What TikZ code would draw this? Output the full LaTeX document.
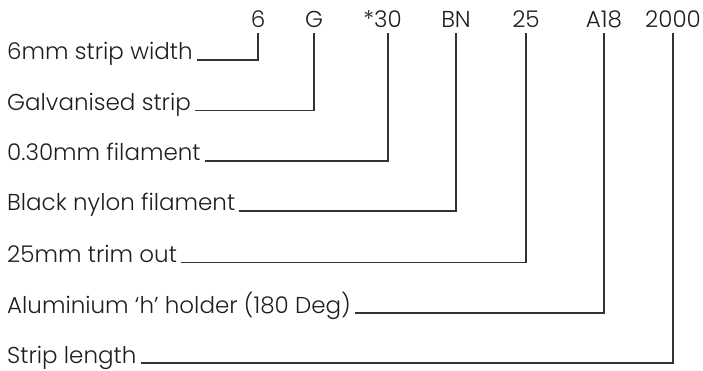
\documentclass[tikz,border=0pt]{standalone}
\usepackage{fontspec}
\setmainfont{Poppins Light}
\definecolor{ink}{HTML}{1E1E1E}
\definecolor{wire}{HTML}{333333}
\begin{document}
\begin{tikzpicture}[x=1pt,y=-1pt,
  code/.style={anchor=base,inner sep=0pt,text=ink,font=\fontsize{23}{27}\selectfont},
  lbl/.style={anchor=base west,inner sep=0pt,text=ink,font=\fontsize{23}{27}\selectfont},
  lead/.style={draw=wire,line width=1.1pt}]
\useasboundingbox (0,0) rectangle (703,371);
\foreach \n/\x/\t in {1/258/6,2/314/G,3/388/\llap{*}30,4/456/BN,5/526/25,6/604/A18,7/673/2000}
  {\node[code] (c\n) at (\x,28) {\t};
   \coordinate (t\n) at (\x,33);}
\node[lbl] (l1) at (7,60)    {6mm strip width};
\node[lbl] (l2) at (7,110.5) {Galvanised strip};
\node[lbl] (l3) at (7,161)   {0.30mm filament};
\node[lbl] (l4) at (7,211)   {Black nylon filament};
\node[lbl] (l5) at (7,262.5) {25mm trim out};
\node[lbl] (l6) at (7,313)   {Aluminium `h' holder (180 Deg)};
\node[lbl] (l7) at (7,363)   {Strip length};
\foreach \n in {1,...,7}
  \draw[lead] ([xshift=4pt]l\n.base east) -| (t\n);
\end{tikzpicture}
\end{document}
